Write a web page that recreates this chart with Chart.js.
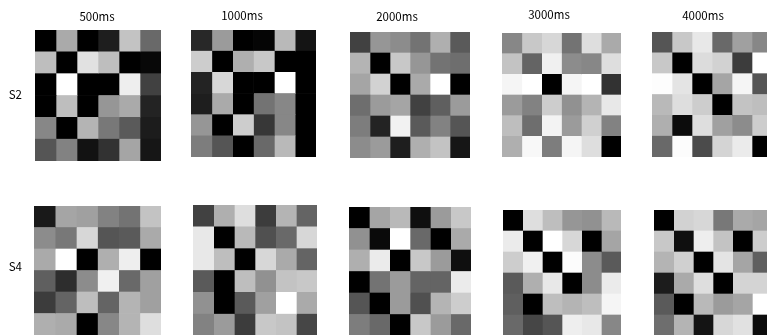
<!DOCTYPE html>
<html>
<head>
<meta charset="utf-8">
<title>Heatmaps</title>
<script src="https://cdn.jsdelivr.net/npm/chart.js@4"></script>
<style>
  html, body { margin: 0; padding: 0; background: #fff; width: 767px; height: 335px; overflow: hidden; }
  /* the original is a soft, resampled image */
  canvas { position: absolute; filter: blur(0.5px); }
</style>
</head>
<body>
<script>
// Grey level of every cell, row by row (0 = black, 255 = white)
const s2_500ms = [
  [0, 170, 0, 30, 195, 105],
  [190, 0, 225, 190, 0, 8],
  [0, 255, 0, 0, 238, 65],
  [0, 190, 0, 150, 170, 35],
  [135, 0, 180, 120, 90, 28],
  [85, 130, 18, 50, 165, 22]
];
const s2_1000ms = [
  [40, 155, 0, 5, 185, 20],
  [205, 0, 175, 200, 0, 0],
  [35, 215, 0, 0, 255, 0],
  [30, 170, 0, 115, 135, 0],
  [150, 0, 205, 55, 135, 0],
  [125, 85, 0, 105, 185, 0]
];
const s2_2000ms = [
  [65, 150, 140, 115, 175, 90],
  [180, 0, 200, 150, 115, 110],
  [165, 210, 0, 170, 255, 0],
  [110, 155, 165, 65, 95, 155],
  [125, 35, 242, 90, 130, 85],
  [140, 155, 30, 175, 195, 22]
];
const s2_3000ms = [
  [135, 200, 215, 115, 222, 170],
  [195, 100, 240, 140, 135, 222],
  [245, 255, 0, 245, 255, 50],
  [155, 130, 205, 145, 180, 232],
  [190, 110, 243, 155, 208, 130],
  [175, 248, 125, 245, 222, 0]
];
const s2_4000ms = [
  [85, 200, 232, 105, 160, 135],
  [200, 0, 220, 210, 60, 255],
  [253, 228, 0, 165, 245, 85],
  [185, 222, 205, 0, 195, 190],
  [175, 12, 222, 160, 140, 205],
  [105, 252, 75, 212, 235, 0]
];
const s4_500ms = [
  [25, 165, 160, 130, 115, 195],
  [140, 120, 215, 85, 90, 170],
  [170, 255, 0, 175, 238, 0],
  [95, 45, 140, 240, 105, 160],
  [60, 100, 190, 100, 180, 160],
  [175, 170, 0, 135, 180, 222]
];
const s4_1000ms = [
  [65, 175, 222, 60, 180, 100],
  [232, 0, 185, 80, 105, 215],
  [232, 190, 0, 215, 170, 100],
  [90, 0, 190, 145, 195, 200],
  [145, 0, 90, 160, 255, 170],
  [130, 155, 60, 200, 195, 70]
];
const s4_2000ms = [
  [0, 165, 185, 15, 155, 200],
  [145, 10, 255, 105, 0, 170],
  [175, 235, 0, 200, 155, 15],
  [0, 115, 155, 100, 100, 235],
  [85, 0, 155, 80, 180, 205],
  [125, 105, 0, 200, 155, 105]
];
const s4_3000ms = [
  [0, 222, 190, 150, 145, 185],
  [235, 0, 255, 215, 0, 165],
  [205, 240, 0, 252, 140, 90],
  [90, 175, 232, 0, 140, 235],
  [95, 0, 190, 180, 190, 245],
  [105, 70, 85, 238, 232, 135]
];
const s4_4000ms = [
  [0, 210, 215, 120, 170, 165],
  [200, 15, 238, 195, 0, 205],
  [180, 208, 0, 228, 165, 95],
  [28, 170, 222, 0, 212, 212],
  [90, 0, 185, 155, 165, 255],
  [110, 180, 20, 215, 225, 12]
];

const rows = ["1", "2", "3", "4", "5", "6"];
const columns = [0, 1, 2, 3, 4, 5];
const times = ["500ms", "1000ms", "2000ms", "3000ms", "4000ms"];
const rowNames = ["S2", "S4"];

// Where each heatmap sits on the page (the originals are not quite on a grid)
const panels = [
  { values: s2_500ms, title: times[0], rowName: rowNames[0], nameY: 94, x: 35, y: 30, w: 126, h: 131, titleX: 97, titleY: 17 },
  { values: s2_1000ms, title: times[1], x: 191, y: 30, w: 125, h: 127, titleX: 242, titleY: 16 },
  { values: s2_2000ms, title: times[2], x: 350, y: 32, w: 120, h: 126, titleX: 397, titleY: 17 },
  { values: s2_3000ms, title: times[3], x: 502, y: 33, w: 119, h: 124, titleX: 549, titleY: 15 },
  { values: s2_4000ms, title: times[4], x: 652, y: 32, w: 120, h: 125, titleX: 703, titleY: 16 },
  { values: s4_500ms, rowName: rowNames[1], nameY: 262, x: 34, y: 206, w: 127, h: 129 },
  { values: s4_1000ms, x: 193, y: 205, w: 124, h: 131 },
  { values: s4_2000ms, x: 349, y: 207, w: 122, h: 129 },
  { values: s4_3000ms, x: 503, y: 210, w: 118, h: 126 },
  { values: s4_4000ms, x: 654, y: 210, w: 118, h: 126 }
];

const labelFont = { family: "'Noto Sans CJK JP', sans-serif", size: 11.5, weight: "normal" };
const labelLine = 13.8;

// Blank axis used only to reserve room beside the heatmap
function spacer(position, width) {
  return {
    type: "linear",
    position,
    min: 0,
    max: 1,
    afterFit: axis => {
      axis.width = width;
      axis.paddingTop = 0;
      axis.paddingBottom = 0;
    },
    grid: { display: false, drawTicks: false },
    border: { display: false },
    ticks: { display: false }
  };
}

panels.forEach(p => {
  // Title is centred on the canvas, so the canvas is stretched to centre it at titleX
  let left = p.rowName ? 0 : p.x;
  let width = p.x + p.w - left;
  if (p.title) {
    const half = Math.max(p.titleX - left, p.x + p.w - p.titleX);
    left = p.titleX - half;
    width = half * 2;
  }
  const top = p.title ? 0 : p.y;
  const gutter = p.x - left;
  const rightGap = left + width - p.x - p.w;

  const canvas = document.createElement("canvas");
  canvas.width = width;
  canvas.height = p.y + p.h - top;
  canvas.style.left = left + "px";
  canvas.style.top = top + "px";
  document.body.appendChild(canvas);

  const scales = {
    x: { display: false, stacked: true, min: 0, max: columns.length },
    y: { display: false, stacked: true }
  };
  if (gutter > 0) scales.gapLeft = spacer("left", gutter);
  if (rightGap > 0) scales.gapRight = spacer("right", rightGap);
  if (p.rowName) {
    // The row name is the single tick of the left axis
    const nameValue = 1 - (p.nameY - p.y) / p.h;
    scales.gapLeft.afterBuildTicks = axis => { axis.ticks = [{ value: nameValue }]; };
    scales.gapLeft.ticks = {
      callback: () => p.rowName,
      color: "#000",
      font: labelFont,
      padding: gutter - 22
    };
  }

  new Chart(canvas, {
    type: "bar",
    data: {
      labels: rows,
      datasets: columns.map(c => ({
        data: rows.map(() => 1),
        backgroundColor: p.values.map(row => `rgb(${row[c]},${row[c]},${row[c]})`),
        barPercentage: 1,
        categoryPercentage: 1,
        borderWidth: 0
      }))
    },
    options: {
      indexAxis: "y",
      responsive: false,
      animation: false,
      devicePixelRatio: 1,
      scales,
      plugins: {
        legend: { display: false },
        tooltip: { enabled: false },
        title: {
          display: !!p.title,
          text: p.title,
          color: "#000",
          font: { ...labelFont, lineHeight: 1.2 },
          padding: p.title ? {
            top: p.titleY - labelLine / 2,
            bottom: p.y - p.titleY - labelLine / 2
          } : 0
        }
      }
    }
  });
});
</script>
</body>
</html>
